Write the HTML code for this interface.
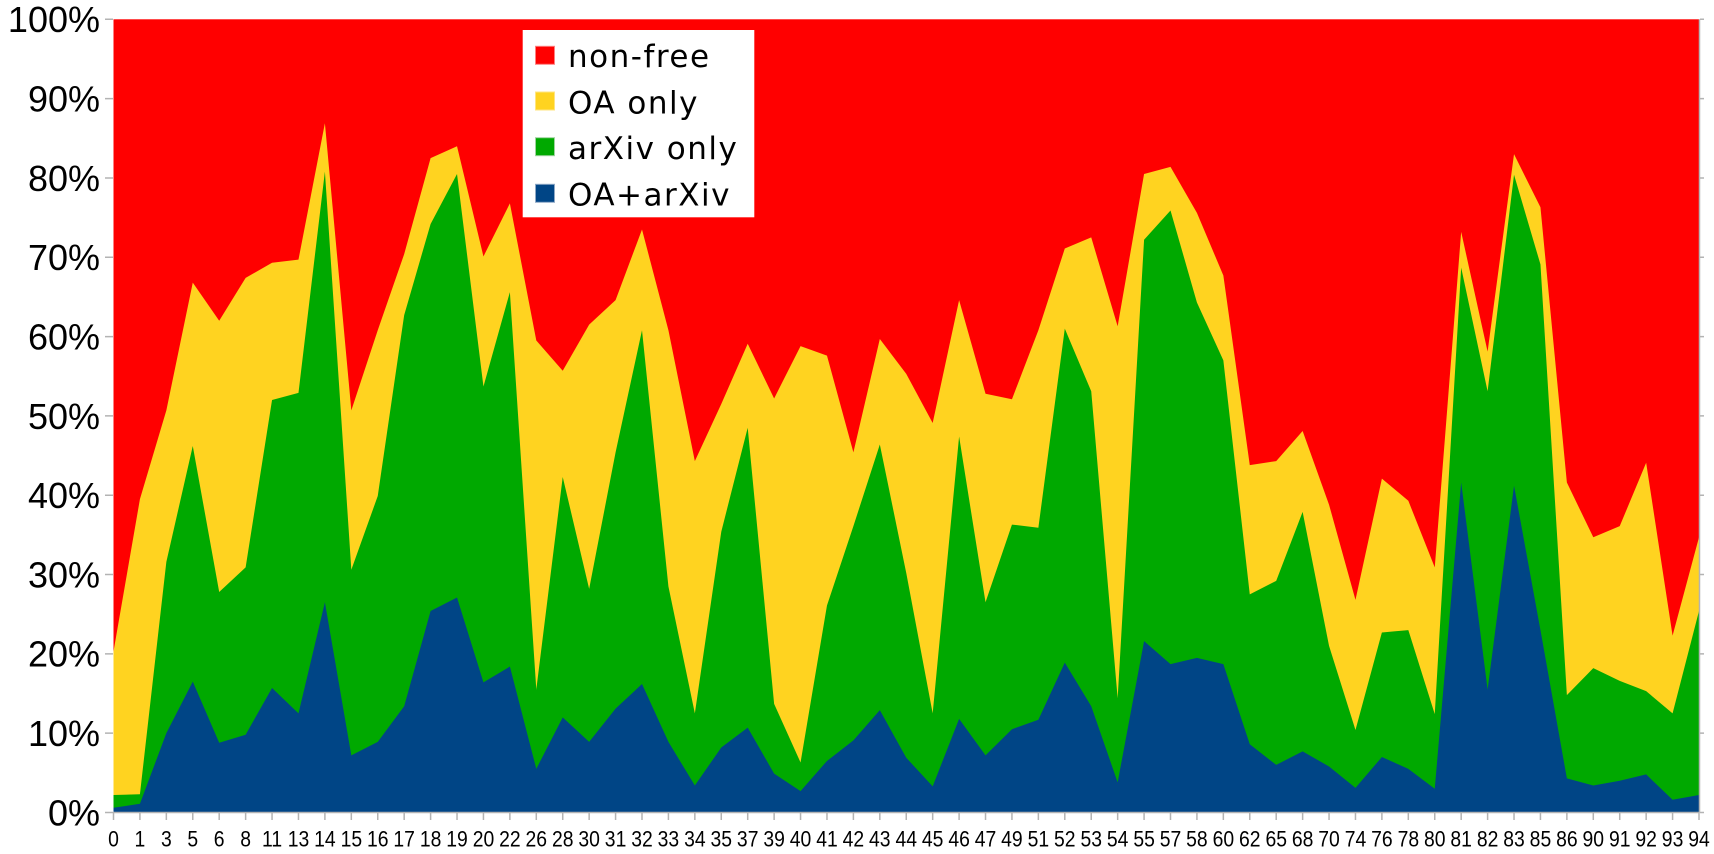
<!DOCTYPE html>
<html>
<head>
<meta charset="utf-8">
<style>
  html, body { margin: 0; padding: 0; background: #ffffff; }
  svg { display: block; }
  .yl { font-family: "Liberation Sans", "DejaVu Sans", sans-serif; font-size: 36px; fill: #000; }
  .xl { font-family: "Liberation Sans", "DejaVu Sans", sans-serif; font-size: 22.5px; fill: #000; }
  .lg { font-family: "DejaVu Sans", "Liberation Sans", sans-serif; font-size: 31px; fill: #000; letter-spacing: 1.5px; }
</style>
</head>
<body>
<svg width="1714" height="854" viewBox="0 0 1714 854" xmlns="http://www.w3.org/2000/svg">
  <rect x="0" y="0" width="1714" height="854" fill="#ffffff"/>
  <rect x="113.5" y="19.3" width="1585.5" height="793.2" fill="#ff0000"/>
  <g transform="translate(113.5,812.5) scale(26.425,-7.932)">
    <polygon fill="#ffd320" points="0,20.3 1,39.5 2,50.7 3,66.8 4,62.0 5,67.4 6,69.3 7,69.7 8,86.9 9,50.7 10,60.8 11,70.4 12,82.5 13,84.0 14,70.1 15,76.8 16,59.5 17,55.7 18,61.5 19,64.6 20,73.5 21,60.8 22,44.3 23,51.5 24,59.1 25,52.2 26,58.8 27,57.6 28,45.4 29,59.7 30,55.3 31,49.1 32,64.6 33,52.8 34,52.1 35,60.8 36,71.1 37,72.5 38,61.3 39,80.5 40,81.4 41,75.6 42,67.7 43,43.8 44,44.3 45,48.1 46,38.8 47,26.8 48,42.1 49,39.3 50,30.9 51,73.2 52,58.1 53,83.0 54,76.3 55,41.6 56,34.7 57,36.1 58,44.1 59,22.3 60,34.7 60,0 0,0"/>
    <polygon fill="#00a900" points="0,2.2 1,2.3 2,31.6 3,46.2 4,27.8 5,30.9 6,52.0 7,52.9 8,80.8 9,30.6 10,39.9 11,62.7 12,74.2 13,80.5 14,53.7 15,65.6 16,15.5 17,42.3 18,28.2 19,45.4 20,60.8 21,28.5 22,12.5 23,35.4 24,48.5 25,13.7 26,6.3 27,26.1 28,36.1 29,46.4 30,30.2 31,12.5 32,47.4 33,26.5 34,36.3 35,35.9 36,61.0 37,53.1 38,14.4 39,72.2 40,75.9 41,64.3 42,57.0 43,27.5 44,29.2 45,37.9 46,21.0 47,10.4 48,22.7 49,23.0 50,12.4 51,68.7 52,53.1 53,80.4 54,69.1 55,14.8 56,18.2 57,16.6 58,15.3 59,12.5 60,25.4 60,0 0,0"/>
    <polygon fill="#004586" points="0,0.6 1,1.1 2,10.0 3,16.5 4,8.8 5,9.8 6,15.7 7,12.5 8,26.5 9,7.2 10,8.9 11,13.4 12,25.4 13,27.1 14,16.4 15,18.4 16,5.5 17,12.0 18,8.9 19,13.1 20,16.2 21,8.9 22,3.4 23,8.2 24,10.7 25,4.9 26,2.7 27,6.5 28,9.1 29,12.9 30,6.9 31,3.3 32,11.8 33,7.2 34,10.5 35,11.7 36,18.9 37,13.4 38,3.8 39,21.6 40,18.7 41,19.5 42,18.7 43,8.6 44,6.0 45,7.7 46,5.8 47,3.1 48,7.0 49,5.5 50,3.0 51,41.6 52,15.5 53,41.2 54,23.0 55,4.3 56,3.4 57,4.0 58,4.8 59,1.6 60,2.2 60,0 0,0"/>
  </g>
  <line x1="113.5" y1="812.5" x2="1699.5" y2="812.5" stroke="#b3b3b3" stroke-width="1.5"/>
  <line x1="1699.5" y1="19.3" x2="1699.5" y2="812.5" stroke="#b3b3b3" stroke-width="1.5"/>
  <line x1="109" y1="18.55" x2="109" y2="814" stroke="#b3b3b3" stroke-width="8" stroke-dasharray="1.5 77.82"/>
  <line x1="1702" y1="18.55" x2="1702" y2="814" stroke="#b3b3b3" stroke-width="4" stroke-dasharray="1.5 77.82"/>
  <line x1="112.75" y1="816" x2="1701" y2="816" stroke="#b3b3b3" stroke-width="8" stroke-dasharray="1.5 24.925"/>
  <text class="yl" text-anchor="end"><tspan x="100" y="32">100%</tspan><tspan x="100" y="111.5">90%</tspan><tspan x="100" y="190.8">80%</tspan><tspan x="100" y="270.1">70%</tspan><tspan x="100" y="349.5">60%</tspan><tspan x="100" y="428.8">50%</tspan><tspan x="100" y="508.1">40%</tspan><tspan x="100" y="587.4">30%</tspan><tspan x="100" y="666.7">20%</tspan><tspan x="100" y="746.1">10%</tspan><tspan x="100" y="825.4">0%</tspan></text>
  <g transform="scale(0.86,1)">
    <text class="xl" text-anchor="middle" y="846.5"><tspan x="131.98">0</tspan><tspan x="162.70">1</tspan><tspan x="193.43">3</tspan><tspan x="224.16">5</tspan><tspan x="254.88">6</tspan><tspan x="285.61">8</tspan><tspan x="316.34">11</tspan><tspan x="347.06">13</tspan><tspan x="377.79">14</tspan><tspan x="408.52">15</tspan><tspan x="439.24">16</tspan><tspan x="469.97">17</tspan><tspan x="500.70">18</tspan><tspan x="531.42">19</tspan><tspan x="562.15">20</tspan><tspan x="592.88">22</tspan><tspan x="623.60">26</tspan><tspan x="654.33">28</tspan><tspan x="685.06">30</tspan><tspan x="715.78">31</tspan><tspan x="746.51">32</tspan><tspan x="777.24">33</tspan><tspan x="807.96">34</tspan><tspan x="838.69">35</tspan><tspan x="869.42">37</tspan><tspan x="900.14">39</tspan><tspan x="930.87">40</tspan><tspan x="961.60">41</tspan><tspan x="992.32">42</tspan><tspan x="1023.05">43</tspan><tspan x="1053.78">44</tspan><tspan x="1084.50">45</tspan><tspan x="1115.23">46</tspan><tspan x="1145.96">47</tspan><tspan x="1176.68">49</tspan><tspan x="1207.41">51</tspan><tspan x="1238.14">52</tspan><tspan x="1268.86">53</tspan><tspan x="1299.59">54</tspan><tspan x="1330.32">55</tspan><tspan x="1361.05">57</tspan><tspan x="1391.77">58</tspan><tspan x="1422.50">60</tspan><tspan x="1453.23">62</tspan><tspan x="1483.95">65</tspan><tspan x="1514.68">68</tspan><tspan x="1545.41">70</tspan><tspan x="1576.13">74</tspan><tspan x="1606.86">76</tspan><tspan x="1637.59">78</tspan><tspan x="1668.31">80</tspan><tspan x="1699.04">81</tspan><tspan x="1729.77">82</tspan><tspan x="1760.49">83</tspan><tspan x="1791.22">85</tspan><tspan x="1821.95">86</tspan><tspan x="1852.67">90</tspan><tspan x="1883.40">91</tspan><tspan x="1914.13">92</tspan><tspan x="1944.85">93</tspan><tspan x="1975.58">94</tspan></text>
  </g>
  <rect x="522.7" y="30" width="231.6" height="187.3" fill="#ffffff"/>
  <rect x="535.5" y="46.3" width="19" height="18" fill="#ff0000" stroke="#ff8080" stroke-width="1"/>
  <rect x="535.5" y="92" width="19" height="18" fill="#ffd320" stroke="#ffe580" stroke-width="1"/>
  <rect x="535.5" y="137.7" width="19" height="18" fill="#00a900" stroke="#9fd39f" stroke-width="1"/>
  <rect x="535.5" y="184.3" width="19" height="18" fill="#004586" stroke="#8fa9c6" stroke-width="1"/>
  <text class="lg" x="568" y="67">non-free</text>
  <text class="lg" x="568" y="113.5">OA only</text>
  <text class="lg" x="568" y="158.8">arXiv only</text>
  <text class="lg" x="568" y="205.3">OA+arXiv</text>
</svg>
</body>
</html>
